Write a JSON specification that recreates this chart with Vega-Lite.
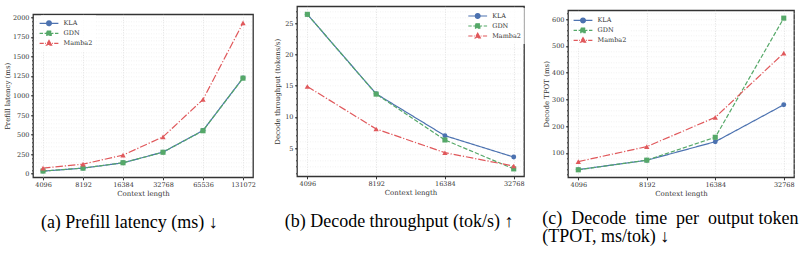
{
  "$schema": "https://vega.github.io/schema/vega-lite/v6.json",
  "padding": {"left": 2, "top": 5.3, "right": 0, "bottom": 0},
  "background": "white",
  "config": {
    "view": {"stroke": "#333333", "strokeWidth": 1.3},
    "axis": {
      "labelFont": "DejaVu Serif", "labelFontSize": 6.5, "labelColor": "#333333",
      "titleFont": "DejaVu Serif", "titleFontSize": 7, "titleFontWeight": "normal", "titleColor": "#333333",
      "tickColor": "#333333", "domain": false, "gridColor": "#d4d4d4", "gridDash": [1, 1.5], "gridWidth": 0.7,
      "tickSize": 2.5, "labelPadding": 1.5
    },
    "legend": {
      "labelFont": "DejaVu Serif", "labelFontSize": 6.5, "labelColor": "#333333",
      "symbolSize": 64, "symbolStrokeWidth": 1.2, "symbolOpacity": 1, "labelOffset": 9.5, "rowPadding": -1.5,
      "padding": 3, "fillColor": "rgba(255,255,255,0.8)"
    },
    "title": {"font": "Liberation Serif", "fontSize": 18, "fontWeight": "normal", "color": "#000000", "orient": "bottom", "offset": 17}
  },
  "datasets": {
    "prefill": [
      {"series": "KLA", "ctx": 4096, "v": 34}, {"series": "KLA", "ctx": 8192, "v": 72}, {"series": "KLA", "ctx": 16384, "v": 140},
      {"series": "KLA", "ctx": 32768, "v": 277}, {"series": "KLA", "ctx": 65536, "v": 553}, {"series": "KLA", "ctx": 131072, "v": 1225},
      {"series": "GDN", "ctx": 4096, "v": 35}, {"series": "GDN", "ctx": 8192, "v": 72}, {"series": "GDN", "ctx": 16384, "v": 141},
      {"series": "GDN", "ctx": 32768, "v": 275}, {"series": "GDN", "ctx": 65536, "v": 550}, {"series": "GDN", "ctx": 131072, "v": 1222},
      {"series": "Mamba2", "ctx": 4096, "v": 72}, {"series": "Mamba2", "ctx": 8192, "v": 123}, {"series": "Mamba2", "ctx": 16384, "v": 238},
      {"series": "Mamba2", "ctx": 32768, "v": 472}, {"series": "Mamba2", "ctx": 65536, "v": 949}, {"series": "Mamba2", "ctx": 131072, "v": 1928}
    ],
    "decode": [
      {"series": "KLA", "ctx": 4096, "v": 26.45}, {"series": "KLA", "ctx": 8192, "v": 13.7}, {"series": "KLA", "ctx": 16384, "v": 6.98}, {"series": "KLA", "ctx": 32768, "v": 3.55},
      {"series": "GDN", "ctx": 4096, "v": 26.45}, {"series": "GDN", "ctx": 8192, "v": 13.65}, {"series": "GDN", "ctx": 16384, "v": 6.29}, {"series": "GDN", "ctx": 32768, "v": 1.65},
      {"series": "Mamba2", "ctx": 4096, "v": 14.87}, {"series": "Mamba2", "ctx": 8192, "v": 8.06}, {"series": "Mamba2", "ctx": 16384, "v": 4.25}, {"series": "Mamba2", "ctx": 32768, "v": 2.1}
    ],
    "tpot": [
      {"series": "KLA", "ctx": 4096, "v": 37.8}, {"series": "KLA", "ctx": 8192, "v": 72.6}, {"series": "KLA", "ctx": 16384, "v": 142}, {"series": "KLA", "ctx": 32768, "v": 280},
      {"series": "GDN", "ctx": 4096, "v": 37}, {"series": "GDN", "ctx": 8192, "v": 73}, {"series": "GDN", "ctx": 16384, "v": 158.5}, {"series": "GDN", "ctx": 32768, "v": 603.7},
      {"series": "Mamba2", "ctx": 4096, "v": 67.7}, {"series": "Mamba2", "ctx": 8192, "v": 123.6}, {"series": "Mamba2", "ctx": 16384, "v": 233}, {"series": "Mamba2", "ctx": 32768, "v": 473}
    ]
  },
  "spacing": 15,
  "resolve": {"scale": {"color": "independent", "shape": "independent", "strokeDash": "independent"}, "legend": {"color": "independent", "shape": "independent"}},
  "hconcat": [
    {
      "spacing": 0,
      "vconcat": [
        {"width": 10, "height": 6.4, "data": {"values": []}, "mark": "point", "view": {"stroke": null, "fill": "white"}},
        {
          "width": 220, "height": 163,
          "data": {"name": "prefill"},
          "title": {"text": "(a) Prefill latency (ms) ↓", "anchor": "middle", "frame": "bounds", "font": "Liberation Serif", "fontSize": 18},
          "resolve": {"axis": {"y": "independent"}},
          "layer": [
            {
              "mark": {"type": "line", "strokeWidth": 1.2},
              "encoding": {
                "x": {"field": "ctx", "type": "quantitative", "scale": {"type": "log", "base": 2, "domain": [3444, 155872], "nice": false},
                      "axis": {"values": [4096, 8192, 16384, 32768, 65536, 131072], "format": "d", "title": "Context length", "titlePadding": 2}},
                "y": {"field": "v", "type": "quantitative", "scale": {"domain": [-45, 2038], "nice": false, "zero": false},
                      "axis": {"orient": "left", "values": [-50,0,50,100,150,200,250,300,350,400,450,500,550,600,650,700,750,800,850,900,950,1000,1050,1100,1150,1200,1250,1300,1350,1400,1450,1500,1550,1600,1650,1700,1750,1800,1850,1900,1950,2000], "labels": false, "title": null, "tickSize": 1.5, "gridColor": "#ececec"}},
                "color": {"field": "series", "type": "nominal", "scale": {"domain": ["KLA", "GDN", "Mamba2"], "range": ["#4c72b0", "#55a868", "#e0585b"]}},
                "strokeDash": {"field": "series", "type": "nominal", "scale": {"domain": ["KLA", "GDN", "Mamba2"], "range": [[1, 0], [4.4, 1.9], [7.5, 1.9, 1.2, 1.9]]}, "legend": null}
              }
            },
            {
              "transform": [{"filter": "datum.series === 'KLA'"}],
              "mark": {"type": "point", "shape": "circle", "filled": true, "opacity": 1, "size": 24},
              "encoding": {
                "x": {"field": "ctx", "type": "quantitative"},
                "y": {"field": "v", "type": "quantitative",
                      "axis": {"orient": "left", "values": [0, 250, 500, 750, 1000, 1250, 1500, 1750, 2000], "format": "d", "title": "Prefill latency (ms)", "titlePadding": 2.3}},
                "color": {"field": "series", "type": "nominal"}
              }
            },
            {
              "transform": [{"filter": "datum.series === 'GDN'"}],
              "mark": {"type": "point", "shape": "square", "filled": true, "opacity": 1, "size": 26},
              "encoding": {
                "x": {"field": "ctx", "type": "quantitative"},
                "y": {"field": "v", "type": "quantitative", "axis": null},
                "color": {"field": "series", "type": "nominal"}
              }
            },
            {
              "transform": [{"filter": "datum.series === 'Mamba2'"}],
              "mark": {"type": "point", "shape": "triangle-up", "filled": true, "opacity": 1, "size": 28},
              "encoding": {
                "x": {"field": "ctx", "type": "quantitative"},
                "y": {"field": "v", "type": "quantitative", "axis": null},
                "color": {"field": "series", "type": "nominal"}
              }
            },
            {
              "mark": {"type": "point", "filled": false, "opacity": 0, "strokeWidth": 1.2},
              "encoding": {
                "x": {"field": "ctx", "type": "quantitative"},
                "y": {"field": "v", "type": "quantitative", "axis": null},
                "color": {"field": "series", "type": "nominal",
                          "legend": {"title": null, "orient": "none", "legendX": 8, "legendY": 9, "symbolSize": 64, "symbolOpacity": 1, "rowPadding": -1.5, "labelOffset": 9.5}},
                "shape": {"field": "series", "type": "nominal", "scale": {"domain": ["KLA", "GDN", "Mamba2"], "range": ["M-2.35,0H2.35M0.6,0A0.6,0.6 0 1 1 -0.6,0A0.6,0.6 0 1 1 0.6,0ZM0.3,0A0.3,0.3 0 1 1 -0.3,0A0.3,0.3 0 1 1 0.3,0Z", "M-2.35,0H-1.5M-1.1,0H-0.6M0.6,0H1.1M1.5,0H2.35M-0.55,-0.55H0.55V0.55H-0.55ZM-0.25,-0.25H0.25V0.25H-0.25Z", "M-2.35,0H-1.3M-0.95,0H-0.75M0.75,0H0.95M1.3,0H2.35M0,-0.7L0.65,0.45H-0.65ZM0,-0.3L0.3,0.2H-0.3Z"]}}
              }
            }
          ]
        }
      ]
    },
    {
      "width": 227, "height": 170,
      "data": {"name": "decode"},
      "title": {"text": "(b) Decode throughput (tok/s) ↑", "anchor": "middle", "frame": "bounds", "font": "Liberation Serif", "fontSize": 18},
      "resolve": {"axis": {"y": "independent"}},
      "layer": [
        {
          "mark": {"type": "line", "strokeWidth": 1.2},
          "encoding": {
            "x": {"field": "ctx", "type": "quantitative", "scale": {"type": "log", "base": 2, "domain": [3691, 36346], "nice": false},
                  "axis": {"values": [4096, 8192, 16384, 32768], "format": "d", "title": "Context length", "titlePadding": 2}},
            "y": {"field": "v", "type": "quantitative", "scale": {"domain": [0.46, 27.74], "nice": false, "zero": false},
                  "axis": {"orient": "left", "values": [1,2,3,4,5,6,7,8,9,10,11,12,13,14,15,16,17,18,19,20,21,22,23,24,25,26,27], "labels": false, "title": null, "tickSize": 1.5, "gridColor": "#ececec"}},
            "color": {"field": "series", "type": "nominal", "scale": {"domain": ["KLA", "GDN", "Mamba2"], "range": ["#4c72b0", "#55a868", "#e0585b"]}},
            "strokeDash": {"field": "series", "type": "nominal", "scale": {"domain": ["KLA", "GDN", "Mamba2"], "range": [[1, 0], [4.4, 1.9], [7.5, 1.9, 1.2, 1.9]]}, "legend": null}
          }
        },
        {
          "transform": [{"filter": "datum.series === 'KLA'"}],
          "mark": {"type": "point", "shape": "circle", "filled": true, "opacity": 1, "size": 24},
          "encoding": {
            "x": {"field": "ctx", "type": "quantitative"},
            "y": {"field": "v", "type": "quantitative",
                  "axis": {"orient": "left", "values": [5, 10, 15, 20, 25], "title": "Decode throughput (tokens/s)", "titlePadding": 4.2}},
            "color": {"field": "series", "type": "nominal"}
          }
        },
        {
          "transform": [{"filter": "datum.series === 'GDN'"}],
          "mark": {"type": "point", "shape": "square", "filled": true, "opacity": 1, "size": 26},
          "encoding": {
            "x": {"field": "ctx", "type": "quantitative"},
            "y": {"field": "v", "type": "quantitative", "axis": null},
            "color": {"field": "series", "type": "nominal"}
          }
        },
        {
          "transform": [{"filter": "datum.series === 'Mamba2'"}],
          "mark": {"type": "point", "shape": "triangle-up", "filled": true, "opacity": 1, "size": 28},
          "encoding": {
            "x": {"field": "ctx", "type": "quantitative"},
            "y": {"field": "v", "type": "quantitative", "axis": null},
            "color": {"field": "series", "type": "nominal"}
          }
        },
        {
          "mark": {"type": "point", "filled": false, "opacity": 0, "strokeWidth": 1.2},
          "encoding": {
            "x": {"field": "ctx", "type": "quantitative"},
            "y": {"field": "v", "type": "quantitative", "axis": null},
            "color": {"field": "series", "type": "nominal",
                      "legend": {"title": null, "orient": "none", "legendX": 172.7, "legendY": 1.7, "symbolSize": 64, "symbolOpacity": 1, "rowPadding": -1.5, "labelOffset": 9.5}},
            "shape": {"field": "series", "type": "nominal", "scale": {"domain": ["KLA", "GDN", "Mamba2"], "range": ["M-2.35,0H2.35M0.6,0A0.6,0.6 0 1 1 -0.6,0A0.6,0.6 0 1 1 0.6,0ZM0.3,0A0.3,0.3 0 1 1 -0.3,0A0.3,0.3 0 1 1 0.3,0Z", "M-2.35,0H-1.5M-1.1,0H-0.6M0.6,0H1.1M1.5,0H2.35M-0.55,-0.55H0.55V0.55H-0.55ZM-0.25,-0.25H0.25V0.25H-0.25Z", "M-2.35,0H-1.3M-0.95,0H-0.75M0.75,0H0.95M1.3,0H2.35M0,-0.7L0.65,0.45H-0.65ZM0,-0.3L0.3,0.2H-0.3Z"]}}
          }
        }
      ]
    },
    {
      "spacing": 0,
      "vconcat": [
        {"width": 10, "height": 2.65, "data": {"values": []}, "mark": "point", "view": {"stroke": null, "fill": "white"}},
        {
          "width": 226, "height": 167,
          "data": {"name": "tpot"},
          "title": {"text": ["(c) \u00a0Decode \u00a0time \u00a0per \u00a0output token", "(TPOT, ms/tok) ↓"], "anchor": "start", "lineHeight": 18.5, "offset": 13, "font": "Liberation Serif", "fontSize": 18},
          "resolve": {"axis": {"y": "independent"}},
          "layer": [
            {
              "mark": {"type": "line", "strokeWidth": 1.2},
              "encoding": {
                "x": {"field": "ctx", "type": "quantitative", "scale": {"type": "log", "base": 2, "domain": [3691, 36346], "nice": false},
                      "axis": {"values": [4096, 8192, 16384, 32768], "format": "d", "title": "Context length", "titlePadding": 2}},
                "y": {"field": "v", "type": "quantitative", "scale": {"domain": [9, 633], "nice": false, "zero": false},
                      "axis": {"orient": "left", "values": [20,40,60,80,100,120,140,160,180,200,220,240,260,280,300,320,340,360,380,400,420,440,460,480,500,520,540,560,580,600,620], "labels": false, "title": null, "tickSize": 1.5, "gridColor": "#ececec"}},
                "color": {"field": "series", "type": "nominal", "scale": {"domain": ["KLA", "GDN", "Mamba2"], "range": ["#4c72b0", "#55a868", "#e0585b"]}},
                "strokeDash": {"field": "series", "type": "nominal", "scale": {"domain": ["KLA", "GDN", "Mamba2"], "range": [[1, 0], [4.4, 1.9], [7.5, 1.9, 1.2, 1.9]]}, "legend": null}
              }
            },
            {
              "transform": [{"filter": "datum.series === 'KLA'"}],
              "mark": {"type": "point", "shape": "circle", "filled": true, "opacity": 1, "size": 24},
              "encoding": {
                "x": {"field": "ctx", "type": "quantitative"},
                "y": {"field": "v", "type": "quantitative",
                      "axis": {"orient": "left", "values": [100, 200, 300, 400, 500, 600], "title": "Decode TPOT (ms)", "titlePadding": 2.3}},
                "color": {"field": "series", "type": "nominal"}
              }
            },
            {
              "transform": [{"filter": "datum.series === 'GDN'"}],
              "mark": {"type": "point", "shape": "square", "filled": true, "opacity": 1, "size": 26},
              "encoding": {
                "x": {"field": "ctx", "type": "quantitative"},
                "y": {"field": "v", "type": "quantitative", "axis": null},
                "color": {"field": "series", "type": "nominal"}
              }
            },
            {
              "transform": [{"filter": "datum.series === 'Mamba2'"}],
              "mark": {"type": "point", "shape": "triangle-up", "filled": true, "opacity": 1, "size": 28},
              "encoding": {
                "x": {"field": "ctx", "type": "quantitative"},
                "y": {"field": "v", "type": "quantitative", "axis": null},
                "color": {"field": "series", "type": "nominal"}
              }
            },
            {
              "mark": {"type": "point", "filled": false, "opacity": 0, "strokeWidth": 1.2},
              "encoding": {
                "x": {"field": "ctx", "type": "quantitative"},
                "y": {"field": "v", "type": "quantitative", "axis": null},
                "color": {"field": "series", "type": "nominal",
                          "legend": {"title": null, "orient": "none", "legendX": 7, "legendY": 6.1, "symbolSize": 64, "symbolOpacity": 1, "rowPadding": -1.5, "labelOffset": 9.5}},
                "shape": {"field": "series", "type": "nominal", "scale": {"domain": ["KLA", "GDN", "Mamba2"], "range": ["M-2.35,0H2.35M0.6,0A0.6,0.6 0 1 1 -0.6,0A0.6,0.6 0 1 1 0.6,0ZM0.3,0A0.3,0.3 0 1 1 -0.3,0A0.3,0.3 0 1 1 0.3,0Z", "M-2.35,0H-1.5M-1.1,0H-0.6M0.6,0H1.1M1.5,0H2.35M-0.55,-0.55H0.55V0.55H-0.55ZM-0.25,-0.25H0.25V0.25H-0.25Z", "M-2.35,0H-1.3M-0.95,0H-0.75M0.75,0H0.95M1.3,0H2.35M0,-0.7L0.65,0.45H-0.65ZM0,-0.3L0.3,0.2H-0.3Z"]}}
              }
            }
          ]
        }
      ]
    }
  ]
}
